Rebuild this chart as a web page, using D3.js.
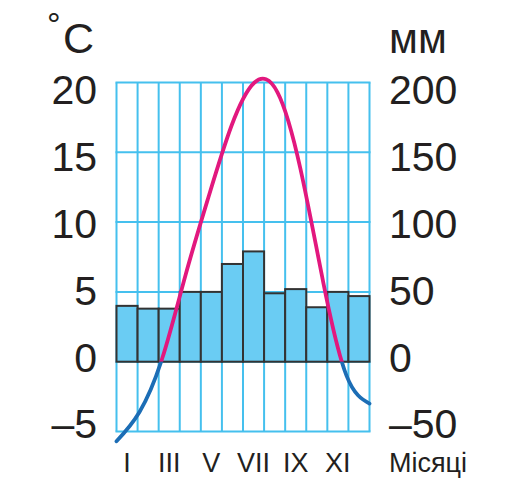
<!DOCTYPE html>
<html>
<head>
<meta charset="utf-8">
<script src="https://cdn.jsdelivr.net/npm/d3@7"></script>
<style>
  body { margin: 0; background: #fff; }
  text { font-family: "Liberation Sans", Arial, sans-serif; fill: #231f20; }
</style>
</head>
<body>
<svg id="chart" width="511" height="500"></svg>
<script>
// climate chart data
var months = ["I", "II", "III", "IV", "V", "VI", "VII", "VIII", "IX", "X", "XI", "XII"];
var monthLabels = ["I", "III", "V", "VII", "IX", "XI"];
var precipitation = [40, 38, 38, 50, 50, 70, 79, 49, 52, 39, 50, 47];   // mm
var temperature = [-5.7, -3.6, 0.3, 6.2, 11.8, 16.9, 20.0, 19.3, 13.8, 5.6, -1.0, -3.0]; // °C
var tempTicks = [20, 15, 10, 5, 0, -5];
var precTicks = [200, 150, 100, 50, 0, -50];

var svg = d3.select("#chart");

var plotL = 116.5, plotR = 369.5, plotT = 82.5, plotB = 431.5;
var gridColor = "#45c0ee";

var x = d3.scaleBand().domain(months).range([plotL, plotR]).padding(0);
var xLine = d3.scalePoint().domain(months).range([plotL, plotR]);
var yT = d3.scaleLinear().domain([-5, 20]).range([plotB, plotT]);
var yP = d3.scaleLinear().domain([-50, 200]).range([plotB, plotT]);
// tick labels sit on a slightly tighter band than the grid
var yLab = d3.scaleLinear().domain([-5, 20]).range([424, 90]);

// grid
var grid = svg.append("g");
grid.selectAll("line.v")
  .data(d3.range(months.length + 1))
  .enter().append("line")
    .attr("x1", function(i) { return plotL + i * x.bandwidth(); })
    .attr("x2", function(i) { return plotL + i * x.bandwidth(); })
    .attr("y1", plotT).attr("y2", plotB)
    .attr("stroke", gridColor).attr("stroke-width", 2);

grid.selectAll("line.h")
  .data(tempTicks)
  .enter().append("line")
    .attr("x1", plotL - 1).attr("x2", plotR + 1)
    .attr("y1", function(d) { return yT(d); })
    .attr("y2", function(d) { return yT(d); })
    .attr("stroke", gridColor).attr("stroke-width", 2);

// precipitation bars
svg.append("g").selectAll("rect")
  .data(precipitation)
  .enter().append("rect")
    .attr("x", function(d, i) { return x(months[i]); })
    .attr("width", x.bandwidth())
    .attr("y", function(d) { return yP(d); })
    .attr("height", function(d) { return yP(0) - yP(d); })
    .attr("fill", "#6accf3")
    .attr("stroke", "#333")
    .attr("stroke-width", 2);

// temperature curve, pink above zero and blue below
var line = d3.line()
  .x(function(d, i) { return xLine(months[i]); })
  .y(function(d) { return yT(d); })
  .curve(d3.curveNatural);

var defs = svg.append("defs");
defs.append("clipPath").attr("id", "above")
  .append("rect").attr("x", 0).attr("y", 0).attr("width", 511).attr("height", yT(0));
defs.append("clipPath").attr("id", "below")
  .append("rect").attr("x", 0).attr("y", yT(0)).attr("width", 511).attr("height", 500);

svg.append("path")
  .datum(temperature)
  .attr("d", line)
  .attr("fill", "none")
  .attr("stroke", "#e2187e")
  .attr("stroke-width", 3.8)
  .attr("stroke-linecap", "round")
  .attr("clip-path", "url(#above)");

svg.append("path")
  .datum(temperature)
  .attr("d", line)
  .attr("fill", "none")
  .attr("stroke", "#1c6db5")
  .attr("stroke-width", 3.8)
  .attr("stroke-linecap", "round")
  .attr("clip-path", "url(#below)");

// axis labels
function fmt(d) { return d < 0 ? "\u2013" + Math.abs(d) : String(d); }

svg.append("g").selectAll("text")
  .data(tempTicks)
  .enter().append("text")
    .attr("x", 97)
    .attr("y", function(d) { return yLab(d); })
    .attr("dy", "0.35em")
    .attr("text-anchor", "end")
    .style("font-size", "41px")
    .text(fmt);

svg.append("g").selectAll("text")
  .data(precTicks)
  .enter().append("text")
    .attr("x", 389)
    .attr("y", function(d) { return yLab(d / 10); })
    .attr("dy", "0.35em")
    .attr("text-anchor", "start")
    .style("font-size", "41px")
    .text(fmt);

svg.append("g").selectAll("text")
  .data(monthLabels)
  .enter().append("text")
    .attr("x", function(d) { return x(d) + x.bandwidth() / 2; })
    .attr("y", 472)
    .attr("text-anchor", "middle")
    .style("font-size", "27px")
    .text(function(d) { return d; });

svg.append("text")
  .attr("x", 389).attr("y", 472)
  .style("font-size", "27px")
  .text("Місяці");

// units
svg.append("text")
  .attr("x", 47).attr("y", 36)
  .style("font-size", "34px")
  .text("°");
svg.append("text")
  .attr("x", 63).attr("y", 53)
  .style("font-size", "43px")
  .text("C");
svg.append("text")
  .attr("x", 389).attr("y", 53)
  .style("font-size", "42px")
  .text("мм");
</script>
</body>
</html>
